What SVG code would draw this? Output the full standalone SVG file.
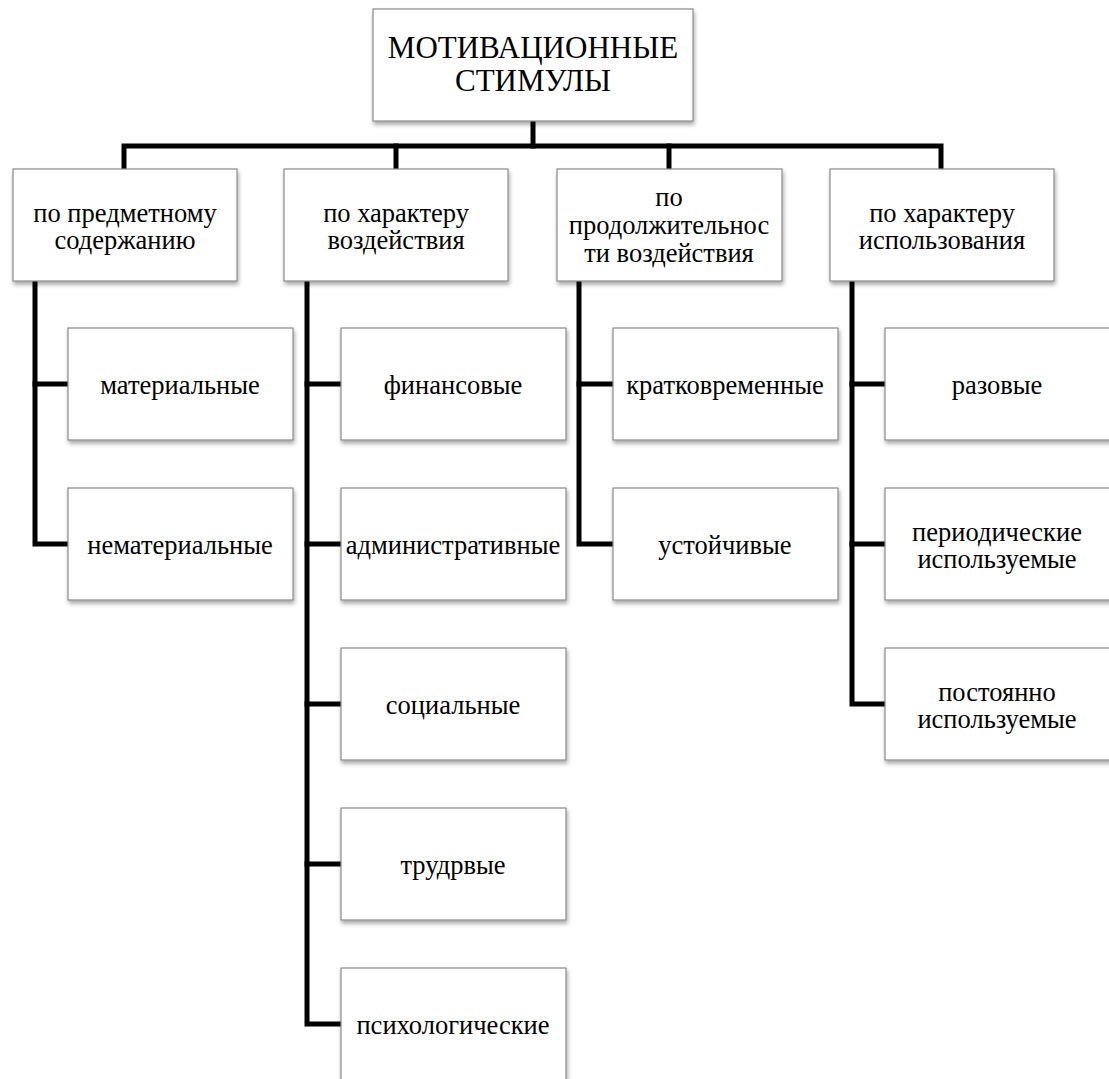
<svg xmlns="http://www.w3.org/2000/svg" width="1109" height="1079" viewBox="0 0 1109 1079">
<defs>
<filter id="sh" x="-10%" y="-10%" width="130%" height="140%">
<feDropShadow dx="1" dy="3" stdDeviation="2" flood-color="#000" flood-opacity="0.35"/>
</filter>
<style>
.box{fill:#fff;stroke:#8a8a8a;stroke-width:1.2;filter:url(#sh)}
.c{fill:none;stroke:#000;stroke-width:5;stroke-linejoin:miter;stroke-linecap:square}
.t{font-family:'Liberation Serif','Times New Roman',serif;font-size:26.5px;fill:#000;text-anchor:middle}
.tt{font-family:'Liberation Serif','Times New Roman',serif;font-size:31px;fill:#000;text-anchor:middle}
</style>
</defs>
<rect width="1109" height="1079" fill="#fff"/>
<g id="connectors">
<path class="c" d="M533,121 V146"/>
<path class="c" d="M124,167 V146 H941 V167"/>
<path class="c" d="M396,146 V167"/>
<path class="c" d="M669,146 V167"/>
<path class="c" d="M35,281 V544 H66"/>
<path class="c" d="M35,384 H66"/>
<path class="c" d="M307,281 V1024 H339"/>
<path class="c" d="M307,384 H339"/>
<path class="c" d="M307,544 H339"/>
<path class="c" d="M307,704 H339"/>
<path class="c" d="M307,864 H339"/>
<path class="c" d="M579,281 V544 H611"/>
<path class="c" d="M579,384 H611"/>
<path class="c" d="M852,281 V704 H883"/>
<path class="c" d="M852,384 H883"/>
<path class="c" d="M852,544 H883"/>
</g>
<g id="root"><rect class="box" x="373" y="9" width="320" height="112"/><text class="tt" x="533" y="58">МОТИВАЦИОННЫЕ</text><text class="tt" x="533" y="91">СТИМУЛЫ</text></g>
<g id="cat1"><rect class="box" x="13" y="169" width="224" height="112"/><text class="t" x="125" y="222">по предметному</text><text class="t" x="125" y="249">содержанию</text></g>
<g id="cat2"><rect class="box" x="284" y="169" width="224" height="112"/><text class="t" x="396" y="222">по характеру</text><text class="t" x="396" y="249">воздействия</text></g>
<g id="cat3"><rect class="box" x="557" y="169" width="225" height="112"/><text class="t" x="669" y="206">по</text><text class="t" x="669" y="234">продолжительнос</text><text class="t" x="669" y="262">ти воздействия</text></g>
<g id="cat4"><rect class="box" x="830" y="169" width="224" height="112"/><text class="t" x="942" y="222">по характеру</text><text class="t" x="942" y="249">использования</text></g>
<g id="n1a"><rect class="box" x="68" y="328" width="225" height="112"/><text class="t" x="180" y="394">материальные</text></g>
<g id="n1b"><rect class="box" x="68" y="488" width="225" height="112"/><text class="t" x="180" y="554">нематериальные</text></g>
<g id="n2a"><rect class="box" x="341" y="328" width="225" height="112"/><text class="t" x="453" y="394">финансовые</text></g>
<g id="n2b"><rect class="box" x="341" y="488" width="225" height="112"/><text class="t" x="453" y="554">административные</text></g>
<g id="n2c"><rect class="box" x="341" y="648" width="225" height="112"/><text class="t" x="453" y="714">социальные</text></g>
<g id="n2d"><rect class="box" x="341" y="808" width="225" height="112"/><text class="t" x="453" y="874">трудрвые</text></g>
<g id="n2e"><rect class="box" x="341" y="968" width="225" height="130"/><text class="t" x="453" y="1034">психологические</text></g>
<g id="n3a"><rect class="box" x="613" y="328" width="225" height="112"/><text class="t" x="725" y="394">кратковременные</text></g>
<g id="n3b"><rect class="box" x="613" y="488" width="225" height="112"/><text class="t" x="725" y="554">устойчивые</text></g>
<g id="n4a"><rect class="box" x="885" y="328" width="240" height="112"/><text class="t" x="997" y="394">разовые</text></g>
<g id="n4b"><rect class="box" x="885" y="488" width="240" height="112"/><text class="t" x="997" y="541">периодические</text><text class="t" x="997" y="568">используемые</text></g>
<g id="n4c"><rect class="box" x="885" y="648" width="240" height="112"/><text class="t" x="997" y="701">постоянно</text><text class="t" x="997" y="728">используемые</text></g>
</svg>
